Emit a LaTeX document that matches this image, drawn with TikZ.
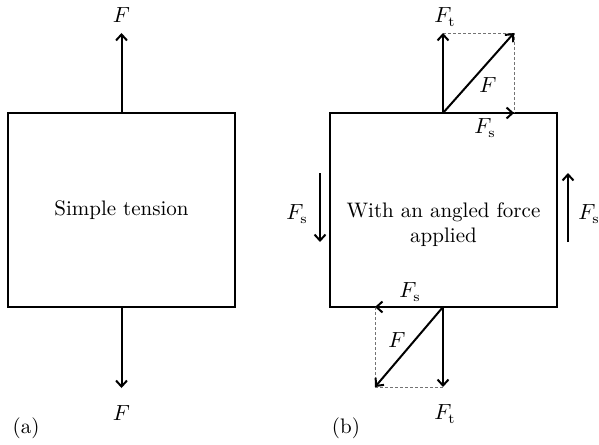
\documentclass[tikz,border=0pt]{standalone}
\usetikzlibrary{arrows.meta, positioning}
\tikzset{
  block/.style = {rectangle, draw=black, line width=0.7pt, align=center, minimum width=113.5pt, minimum height=97pt, inner sep=0pt, font=\fontsize{10.5}{12.5}\selectfont},
  force/.style = {-{Straight Barb[length=3pt,width=5.5pt]}, line width=1pt},
  guide/.style = {draw=black!55, dash pattern=on 1.5pt off 1pt, line width=0.4pt},
  lbl/.style = {inner sep=0pt, font=\fontsize{10.5}{12.5}\selectfont}
}

\begin{document}
\begin{tikzpicture}[x=0.5pt, y=-0.5pt]
\useasboundingbox (0,0) rectangle (599,444);

% Boxes
\node[block] (boxa) at (121.5,210) {Simple tension};
\node[block] (boxb) at (443.5,210) {};
\node[lbl, align=center] (txtb) at (443.5,225) {With an angled force\\ applied};

% (a) simple tension
\coordinate (atop) at (121.5,33);
\coordinate (abot) at (121.5,388);
\draw[force] (boxa.north) -- (atop);
\draw[force] (boxa.south) -- (abot);
\node[lbl] (fa1) at (121.5,15) {$F$};
\node[lbl] (fa2) at (121.5,413) {$F$};

% (b) top force and its parts
\coordinate (ot) at (443,113);
\coordinate (tt) at (443,33);
\coordinate (tf) at (514,33);
\coordinate (ts) at (514,113);
\draw[guide] (tt) -- (tf) -- (ts);
\draw[force] (ot) -- (tt);
\draw[force] (ot) -- (tf);
\draw[force] (ot) -- (ts);
\node[lbl] (ftt) at (445,17) {$F_{\mathrm{t}}$};
\node[lbl] (fft) at (488,85) {$F$};
\node[lbl] (fst) at (485,128) {$F_{\mathrm{s}}$};

% (b) bottom force and its parts
\coordinate (ob) at (443,307);
\coordinate (bs) at (375,307);
\coordinate (bt) at (443,387);
\coordinate (bf) at (375,387);
\draw[guide] (bs) -- (bf) -- (bt);
\draw[force] (ob) -- (bs);
\draw[force] (ob) -- (bt);
\draw[force] (ob) -- (bf);
\node[lbl] (fsb) at (410,292) {$F_{\mathrm{s}}$};
\node[lbl] (ffb) at (397,340) {$F$};
\node[lbl] (ftb) at (445,414) {$F_{\mathrm{t}}$};

% (b) side shear
\coordinate (ls1) at (320,173);
\coordinate (ls2) at (320,242);
\coordinate (rs1) at (568,242);
\coordinate (rs2) at (568,173);
\draw[force] (ls1) -- (ls2);
\draw[force] (rs1) -- (rs2);
\node[lbl] (fsl) at (297,214) {$F_{\mathrm{s}}$};
\node[lbl] (fsr) at (589,214) {$F_{\mathrm{s}}$};

% Panel tags
\node[lbl] (taga) at (26,428) {(a)};
\node[lbl] (tagb) at (346,428) {(b)};
\end{tikzpicture}
\end{document}
